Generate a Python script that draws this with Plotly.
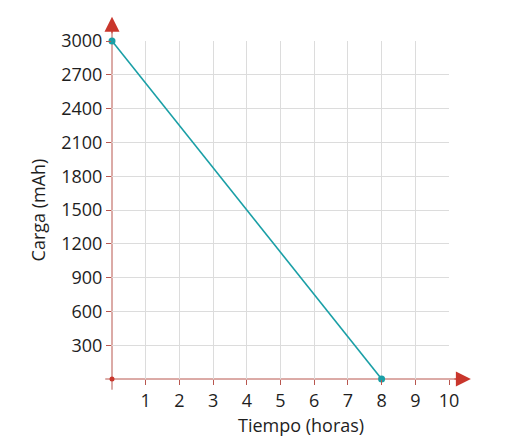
import plotly.graph_objects as go

# datos de la gráfica
tiempo = [0, 8]
carga = [3000, 0]
x_ticks = [1, 2, 3, 4, 5, 6, 7, 8, 9, 10]
y_ticks = [300, 600, 900, 1200, 1500, 1800, 2100, 2400, 2700, 3000]

x_rango = [0, 10]
y_rango = [0, 3000]

rojo = "#c9362c"
eje = "#b8574f"
teal = "#1a9fa6"
fuente = "Open Sans"
texto = "#1e1e1e"


def fx(v):
    # dato -> fraccion del dominio en x
    return (v - x_rango[0]) / (x_rango[1] - x_rango[0])


def fy(v):
    return (v - y_rango[0]) / (y_rango[1] - y_rango[0])


fig = go.Figure()

# ejes (lineas sin recorte)
fig.add_shape(type="line", xref="x domain", yref="y domain", layer="below",
              x0=fx(-0.2), x1=fx(10.5), y0=fy(0), y1=fy(0), line=dict(color=eje, width=1))
fig.add_shape(type="line", xref="x domain", yref="y domain", layer="below",
              x0=fx(0), x1=fx(0), y0=fy(-95), y1=fy(3150), line=dict(color=eje, width=1))

# recta de descarga
fig.add_trace(go.Scatter(
    x=tiempo, y=carga, mode="lines+markers",
    line=dict(color=teal, width=1.6),
    marker=dict(size=7, color=teal),
    cliponaxis=False, showlegend=False, hoverinfo="skip"))

# punto en el origen
fig.add_trace(go.Scatter(
    x=[0], y=[0], mode="markers",
    marker=dict(size=5, color=rojo),
    cliponaxis=False, showlegend=False, hoverinfo="skip"))

# puntas de flecha
fig.add_annotation(x=fx(10.65), y=fy(0), xref="paper", yref="paper", ax=-18, ay=0,
                   showarrow=True, arrowhead=2, arrowsize=3, arrowwidth=1, arrowcolor=rojo,
                   text="")
fig.add_annotation(x=fx(0), y=fy(3215), xref="paper", yref="paper", ax=0, ay=18,
                   showarrow=True, arrowhead=2, arrowsize=3, arrowwidth=1, arrowcolor=rojo,
                   text="")

fig.add_annotation(x=-0.5, y=0, xref="x", yref="y", text="0", showarrow=False,
                   yshift=-14, font=dict(family=fuente, size=18, color=texto))
fig.add_annotation(x=5.6, y=0, xref="x", yref="y", text="Tiempo (horas)", showarrow=False,
                   yshift=-46, font=dict(family=fuente, size=18, color=texto))

fig.update_xaxes(range=x_rango, tickvals=x_ticks, showgrid=True, gridcolor="#dcdcdc", gridwidth=1,
                 zeroline=False, showline=False, ticks="outside", ticklen=5, tickcolor=eje,
                 tickfont=dict(family=fuente, size=18, color=texto))
fig.update_yaxes(range=y_rango, tickvals=y_ticks, showgrid=True, gridcolor="#dcdcdc", gridwidth=1,
                 zeroline=False, showline=False, ticks="outside", ticklen=5, tickcolor=eje,
                 tickfont=dict(family=fuente, size=18, color=texto),
                 title=dict(text="Carga (mAh)", standoff=10, font=dict(family=fuente, size=18, color=texto)))

fig.update_layout(width=507, height=445, margin=dict(l=104, r=66, t=33, b=74),
                  plot_bgcolor="white", paper_bgcolor="white")

fig.write_html("out.html")
